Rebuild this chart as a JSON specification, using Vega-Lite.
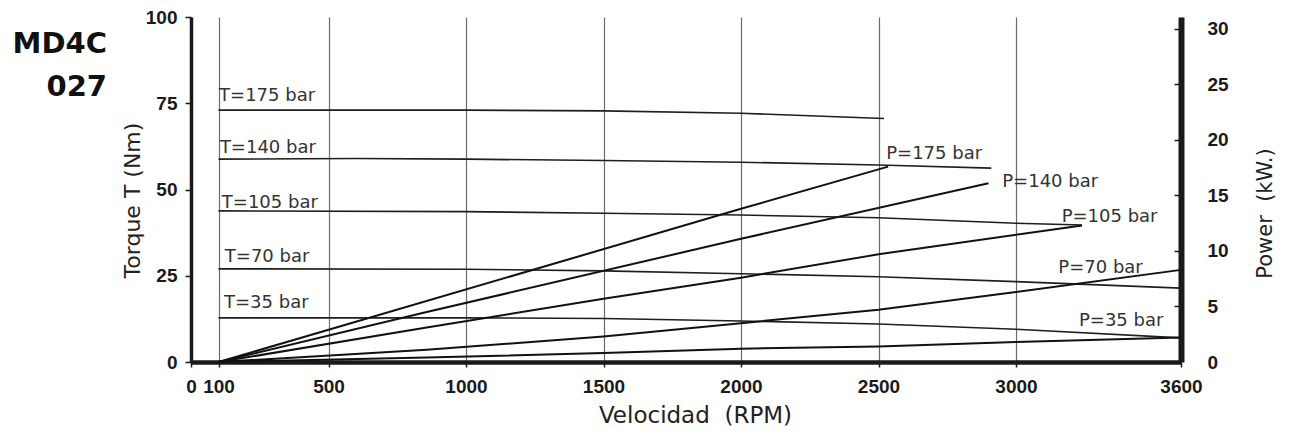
{
  "$schema": "https://vega.github.io/schema/vega-lite/v6.json",
  "width": 990,
  "height": 345,
  "autosize": {"type": "none"},
  "padding": {"left": 191, "top": 17, "right": 109, "bottom": 73},
  "background": "white",
  "config": {"view": {"stroke": null}},
  "title": {
    "text": ["MD4C", "027"],
    "orient": "top",
    "anchor": "start",
    "frame": "group",
    "align": "right",
    "baseline": "top",
    "dx": -84,
    "dy": 94,
    "offset": 0,
    "font": "DejaVu Sans",
    "fontSize": 29,
    "fontWeight": "bold",
    "lineHeight": 43,
    "color": "#111111"
  },
  "datasets": {
    "torque": [
      {"s": "T175", "rpm": 100, "T": 73.0},
      {"s": "T175", "rpm": 1000, "T": 73.0},
      {"s": "T175", "rpm": 1500, "T": 72.8},
      {"s": "T175", "rpm": 2000, "T": 72.1},
      {"s": "T175", "rpm": 2520, "T": 70.6},
      {"s": "T140", "rpm": 100, "T": 58.8},
      {"s": "T140", "rpm": 600, "T": 59.0},
      {"s": "T140", "rpm": 1000, "T": 58.8},
      {"s": "T140", "rpm": 1500, "T": 58.4},
      {"s": "T140", "rpm": 2000, "T": 57.9},
      {"s": "T140", "rpm": 2500, "T": 57.1},
      {"s": "T140", "rpm": 2910, "T": 56.2},
      {"s": "T105", "rpm": 100, "T": 43.8},
      {"s": "T105", "rpm": 1000, "T": 43.6},
      {"s": "T105", "rpm": 1500, "T": 43.1},
      {"s": "T105", "rpm": 2000, "T": 42.6},
      {"s": "T105", "rpm": 2500, "T": 41.8},
      {"s": "T105", "rpm": 3000, "T": 40.2},
      {"s": "T105", "rpm": 3240, "T": 39.7},
      {"s": "T70", "rpm": 100, "T": 27.0},
      {"s": "T70", "rpm": 1000, "T": 26.9},
      {"s": "T70", "rpm": 1500, "T": 26.4},
      {"s": "T70", "rpm": 2000, "T": 25.6},
      {"s": "T70", "rpm": 2500, "T": 24.7},
      {"s": "T70", "rpm": 3000, "T": 23.3},
      {"s": "T70", "rpm": 3600, "T": 21.4},
      {"s": "T35", "rpm": 100, "T": 12.8},
      {"s": "T35", "rpm": 1000, "T": 12.8},
      {"s": "T35", "rpm": 1500, "T": 12.6},
      {"s": "T35", "rpm": 2000, "T": 11.9},
      {"s": "T35", "rpm": 2500, "T": 11.0},
      {"s": "T35", "rpm": 3000, "T": 9.5},
      {"s": "T35", "rpm": 3600, "T": 7.0}
    ],
    "power": [
      {"s": "P175", "rpm": 100, "kW": 0},
      {"s": "P175", "rpm": 2000, "kW": 13.8},
      {"s": "P175", "rpm": 2535, "kW": 17.6},
      {"s": "P140", "rpm": 100, "kW": 0},
      {"s": "P140", "rpm": 857, "kW": 4.5},
      {"s": "P140", "rpm": 2000, "kW": 11.1},
      {"s": "P140", "rpm": 2900, "kW": 16.1},
      {"s": "P105", "rpm": 100, "kW": 0},
      {"s": "P105", "rpm": 857, "kW": 3.1},
      {"s": "P105", "rpm": 1500, "kW": 5.7},
      {"s": "P105", "rpm": 2000, "kW": 7.6},
      {"s": "P105", "rpm": 2500, "kW": 9.7},
      {"s": "P105", "rpm": 3240, "kW": 12.3},
      {"s": "P70", "rpm": 100, "kW": 0},
      {"s": "P70", "rpm": 857, "kW": 1.1},
      {"s": "P70", "rpm": 1500, "kW": 2.3},
      {"s": "P70", "rpm": 2000, "kW": 3.5},
      {"s": "P70", "rpm": 2500, "kW": 4.7},
      {"s": "P70", "rpm": 3000, "kW": 6.3},
      {"s": "P70", "rpm": 3600, "kW": 8.3},
      {"s": "P35", "rpm": 100, "kW": 0},
      {"s": "P35", "rpm": 857, "kW": 0.4},
      {"s": "P35", "rpm": 1500, "kW": 0.8},
      {"s": "P35", "rpm": 2000, "kW": 1.2},
      {"s": "P35", "rpm": 2500, "kW": 1.4},
      {"s": "P35", "rpm": 3000, "kW": 1.8},
      {"s": "P35", "rpm": 3600, "kW": 2.2}
    ],
    "tlabels": [
      {"label": "T=175 bar", "rpm": 102, "T": 75.7},
      {"label": "T=140 bar", "rpm": 105, "T": 60.5},
      {"label": "T=105 bar", "rpm": 112, "T": 44.5},
      {"label": "T=70 bar", "rpm": 123, "T": 29.1},
      {"label": "T=35 bar", "rpm": 120, "T": 15.6}
    ],
    "plabels": [
      {"label": "P=175 bar", "rpm": 2528, "kW": 18.26},
      {"label": "P=140 bar", "rpm": 2950, "kW": 15.74},
      {"label": "P=105 bar", "rpm": 3166, "kW": 12.64},
      {"label": "P=70 bar", "rpm": 3154, "kW": 8.05},
      {"label": "P=35 bar", "rpm": 3229, "kW": 3.27}
    ]
  },
  "encoding": {
    "x": {
      "field": "rpm",
      "type": "quantitative",
      "scale": {"domain": [0, 3600], "nice": false, "zero": false},
      "axis": {
        "values": [0, 100, 500, 1000, 1500, 2000, 2500, 3000, 3600],
        "format": "d",
        "grid": true,
        "gridColor": "#6a6a6a",
        "gridWidth": 1.2,
        "domainColor": "#1a1a1a",
        "domainWidth": 4.5,
        "tickColor": "#1a1a1a",
        "tickWidth": 1.5,
        "tickSize": 5,
        "labelFont": "Liberation Sans",
        "labelFontWeight": "bold",
        "labelFontSize": 19,
        "labelColor": "#1a1a1a",
        "labelPadding": 10,
        "labelFlush": false,
        "labelOverlap": false,
        "title": "Velocidad\u00a0\u00a0(RPM)",
        "titleFont": "DejaVu Sans",
        "titleFontSize": 23,
        "titleFontWeight": "normal",
        "titleColor": "#222222",
        "titlePadding": 8,
        "titleX": 504
      }
    }
  },
  "layer": [
    {
      "encoding": {
        "y": {
          "field": "T",
          "type": "quantitative",
          "scale": {"domain": [0, 100], "nice": false},
          "axis": {
            "orient": "left",
            "values": [0, 25, 50, 75, 100],
            "grid": false,
            "domainColor": "#1a1a1a",
            "domainWidth": 3.5,
            "tickColor": "#1a1a1a",
            "tickWidth": 1.5,
            "tickSize": 6,
            "labelFont": "Liberation Sans",
            "labelFontWeight": "bold",
            "labelFontSize": 19,
            "labelColor": "#1a1a1a",
            "labelPadding": 8,
            "title": "Torque T (Nm)",
            "titleFont": "DejaVu Sans",
            "titleFontSize": 22,
            "titleFontWeight": "normal",
            "titleColor": "#222222",
            "titlePadding": 1,
            "titleY": 183
          }
        }
      },
      "layer": [
        {
          "data": {"name": "torque"},
          "mark": {"type": "line", "color": "#1e1e1e", "strokeWidth": 1.6},
          "encoding": {"detail": {"field": "s"}}
        },
        {
          "data": {"name": "tlabels"},
          "mark": {"type": "text", "align": "left", "baseline": "alphabetic", "font": "DejaVu Sans", "fontSize": 18, "color": "#333333"},
          "encoding": {"text": {"field": "label"}}
        }
      ]
    },
    {
      "encoding": {
        "y": {
          "field": "kW",
          "type": "quantitative",
          "scale": {"domain": [0, 31.08], "nice": false},
          "axis": {
            "orient": "right",
            "values": [0, 5, 10, 15, 20, 25, 30],
            "grid": false,
            "domainColor": "#1a1a1a",
            "domainWidth": 6,
            "tickColor": "#1a1a1a",
            "tickWidth": 1.5,
            "tickSize": -7,
            "labelFont": "Liberation Sans",
            "labelFontWeight": "bold",
            "labelFontSize": 19,
            "labelColor": "#1a1a1a",
            "labelPadding": 33,
            "title": "Power\u00a0\u00a0(kW.)",
            "titleFont": "DejaVu Sans",
            "titleFontSize": 21,
            "titleFontWeight": "normal",
            "titleColor": "#222222",
            "titleAngle": 270,
            "titleBaseline": "top",
            "titlePadding": 26,
            "titleY": 196
          }
        }
      },
      "layer": [
        {
          "data": {"name": "power"},
          "mark": {"type": "line", "color": "#111111", "strokeWidth": 2},
          "encoding": {"detail": {"field": "s"}}
        },
        {
          "data": {"name": "plabels"},
          "mark": {"type": "text", "align": "left", "baseline": "alphabetic", "font": "DejaVu Sans", "fontSize": 18, "color": "#333333"},
          "encoding": {"text": {"field": "label"}}
        }
      ]
    }
  ],
  "resolve": {"scale": {"y": "independent"}}
}
